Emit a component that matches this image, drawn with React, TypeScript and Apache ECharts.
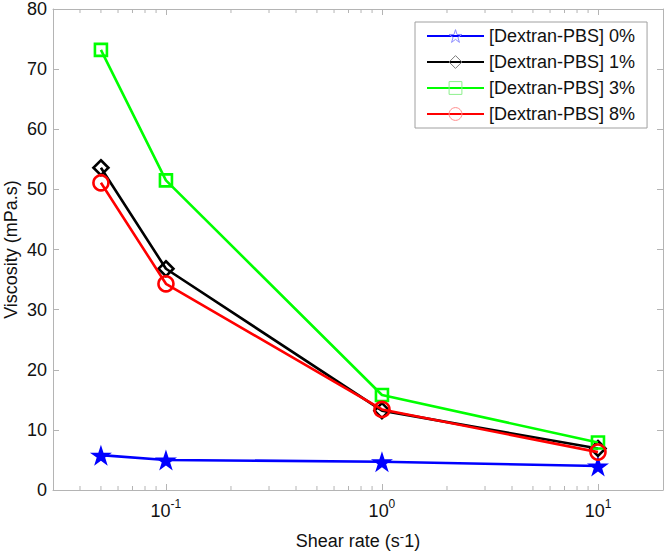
import React, { useEffect, useRef } from 'react';
import * as echarts from 'echarts';

// ---- data ----
const shearRates = [0.05, 0.1, 1, 10];
const seriesNames = ['[Dextran-PBS] 0%', '[Dextran-PBS] 1%', '[Dextran-PBS] 3%', '[Dextran-PBS] 8%'];
const visc0 = [5.8, 5.0, 4.7, 4.0];
const visc1 = [53.6, 36.8, 13.2, 6.9];
const visc3 = [73.2, 51.5, 15.8, 7.9];
const visc8 = [51.1, 34.3, 13.4, 6.3];
const xMin = 0.03;
const xMax = 20;
const yMin = 0;
const yMax = 80;
const yInterval = 10;
const minorTickValues = [0.04, 0.05, 0.06, 0.07, 0.08, 0.09, 0.2, 0.3, 0.4, 0.5, 0.6, 0.7, 0.8, 0.9, 2, 3, 4, 5, 6, 7, 8, 9];

// ---- styles ----
const FONT = '"Liberation Sans", Arial, sans-serif';
const AXIS_COLOR = '#b4b4b4';
const TEXT_COLOR = '#111111';
const STAR_PATH = 'path://M50,0 L61.2,34.5 L97.6,34.5 L68.2,55.9 L79.4,90.5 L50,69.1 L20.6,90.5 L31.8,55.9 L2.4,34.5 L38.8,34.5 Z';

const seriesStyles = [
  { color: '#0000ff', symbol: STAR_PATH, size: [22, 21], filled: true, legendMarker: '#8c8cff' },
  { color: '#000000', symbol: 'diamond', size: [15, 15], filled: false, legendMarker: '#7a7a7a' },
  { color: '#00ff00', symbol: 'rect', size: [12, 12], filled: false, legendMarker: '#8cf08c' },
  { color: '#ff0000', symbol: 'circle', size: [15, 15], filled: false, legendMarker: '#ff8c8c' },
];

const seriesValues = [visc0, visc1, visc3, visc8];

export default function App() {
  const ref = useRef<HTMLDivElement>(null);

  useEffect(() => {
    if (!ref.current) return;
    const chart = echarts.init(ref.current, null, { renderer: 'svg' });

    const lineSeries = seriesNames.map((name, i) => {
      const st = seriesStyles[i];
      return {
        name,
        type: 'line',
        data: shearRates.map((x, j) => [x, seriesValues[i][j]]),
        symbol: st.symbol,
        symbolSize: st.size,
        symbolKeepAspect: false,
        showAllSymbol: true,
        color: st.color,
        lineStyle: { color: st.color, width: 2.6 },
        itemStyle: {
          color: st.filled ? st.color : 'rgba(0,0,0,0)',
          borderColor: st.color,
          borderWidth: st.filled ? 0 : 2.6,
        },
        emphasis: { disabled: true },
        z: 3 + i,
      };
    });

    const minorTickSeries = {
      type: 'custom',
      silent: true,
      clip: false,
      xAxisIndex: 0,
      yAxisIndex: 0,
      data: minorTickValues.map((v) => [v, yMin]),
      renderItem: (_params: any, api: any) => {
        const v = api.value(0);
        const b = api.coord([v, yMin]);
        const t = api.coord([v, yMax]);
        const style = { stroke: AXIS_COLOR, lineWidth: 1 };
        return {
          type: 'group',
          children: [
            { type: 'line', shape: { x1: b[0], y1: b[1], x2: b[0], y2: b[1] - 4 }, style },
            { type: 'line', shape: { x1: t[0], y1: t[1], x2: t[0], y2: t[1] + 4 }, style },
          ],
        };
      },
      z: 1,
    };

    const logFormatter = (v: number) => {
      const e = Math.log10(v);
      const r = Math.round(e);
      if (Math.abs(e - r) > 1e-6) return '';
      return `{b|10}{s|${r}}`;
    };

    const option = {
      animation: false,
      backgroundColor: '#ffffff',
      textStyle: { fontFamily: FONT },
      grid: { left: 53, right: 4, top: 9, bottom: 63, containLabel: false, outerBoundsMode: 'none' },
      legend: {
        orient: 'vertical',
        left: 415,
        top: 22,
        padding: [5, 12, 5, 11],
        itemWidth: 57,
        itemHeight: 16,
        itemGap: 8,
        backgroundColor: '#ffffff',
        borderColor: '#a0a0a0',
        borderWidth: 1,
        borderRadius: 0,
        textStyle: { fontFamily: FONT, fontSize: 18, color: TEXT_COLOR, lineHeight: 18 },
        data: seriesNames.map((n, i) => ({
          name: n,
          itemStyle: {
            color: 'rgba(0,0,0,0)',
            borderColor: seriesStyles[i].legendMarker,
            borderWidth: 1,
          },
        })),
        selectedMode: false,
      },
      xAxis: [
        {
          type: 'log',
          logBase: 10,
          min: xMin,
          max: xMax,
          position: 'bottom',
          name: '{n|Shear rate (s}{s|-}{n|1)}',
          nameLocation: 'middle',
          nameGap: 40,
          nameTextStyle: {
            rich: {
              n: { fontFamily: FONT, fontSize: 18, color: TEXT_COLOR, lineHeight: 20, verticalAlign: 'bottom' },
              s: { fontFamily: FONT, fontSize: 13, color: TEXT_COLOR, lineHeight: 12, verticalAlign: 'top' },
            },
          },
          axisLine: { show: true, onZero: false, lineStyle: { color: AXIS_COLOR, width: 1 } },
          axisTick: { show: true, inside: true, length: 6, lineStyle: { color: AXIS_COLOR } },
          splitLine: { show: false },
          minorTick: { show: false },
          axisLabel: {
            margin: 8,
            formatter: logFormatter,
            rich: {
              b: { fontFamily: FONT, fontSize: 18, color: TEXT_COLOR, lineHeight: 22, verticalAlign: 'bottom' },
              s: { fontFamily: FONT, fontSize: 12, color: TEXT_COLOR, lineHeight: 12, verticalAlign: 'top' },
            },
          },
        },
        {
          type: 'log',
          logBase: 10,
          min: xMin,
          max: xMax,
          position: 'top',
          axisLine: { show: true, onZero: false, lineStyle: { color: AXIS_COLOR, width: 1 } },
          axisTick: { show: true, inside: true, length: 6, lineStyle: { color: AXIS_COLOR } },
          axisLabel: { show: false },
          splitLine: { show: false },
        },
      ],
      yAxis: [
        {
          type: 'value',
          min: yMin,
          max: yMax,
          interval: yInterval,
          position: 'left',
          name: 'Viscosity (mPa.s)',
          nameLocation: 'middle',
          nameGap: 33,
          nameRotate: 90,
          nameMoveOverlap: false,
          nameTextStyle: { fontFamily: FONT, fontSize: 18, color: TEXT_COLOR, lineHeight: 18 },
          axisLine: { show: true, onZero: false, lineStyle: { color: AXIS_COLOR, width: 1 } },
          axisTick: { show: true, inside: true, length: 6, lineStyle: { color: AXIS_COLOR } },
          splitLine: { show: false },
          axisLabel: { margin: 6, fontFamily: FONT, fontSize: 18, color: TEXT_COLOR },
        },
        {
          type: 'value',
          min: yMin,
          max: yMax,
          interval: yInterval,
          position: 'right',
          axisLine: { show: true, onZero: false, lineStyle: { color: AXIS_COLOR, width: 1 } },
          axisTick: { show: true, inside: true, length: 6, lineStyle: { color: AXIS_COLOR } },
          axisLabel: { show: false },
          splitLine: { show: false },
        },
      ],
      series: [minorTickSeries, ...lineSeries],
    };

    chart.setOption(option as any);
    return () => {
      chart.dispose();
    };
  }, []);

  return (
    <div
      ref={ref}
      style={{ position: 'fixed', left: 0, top: 0, width: 667, height: 553, background: '#fff' }}
    />
  );
}
